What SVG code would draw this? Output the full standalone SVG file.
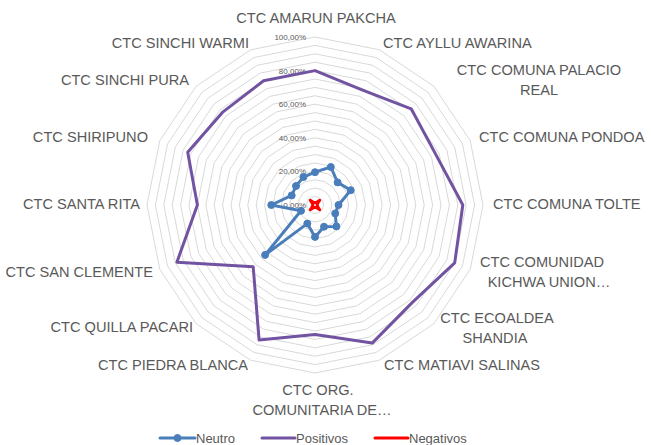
<svg xmlns="http://www.w3.org/2000/svg" xmlns:xlink="http://www.w3.org/1999/xlink" width="651" height="445" viewBox="0 0 651 445">
<style>
.ring{fill:none;stroke:#d9d9d9;stroke-width:1;vector-effect:non-scaling-stroke}
.tick{font-family:"Liberation Sans",Arial,sans-serif;font-size:8px;fill:#595959;text-anchor:end}
.cat{font-family:"Liberation Sans",Arial,sans-serif;font-size:14.6px;fill:#595959}
.leg{font-family:"Liberation Sans",Arial,sans-serif;font-size:13px;fill:#595959}
.s{fill:none;stroke-width:3;stroke-linejoin:round;stroke-linecap:round}
.neu{stroke:#4a7ebb}
.pos{stroke:#7153a2}
.neg{stroke:#ff0000}
.mk{fill:#4a7ebb;stroke:#4a7ebb;stroke-width:1}
</style>
<defs>
<polygon id="ring" class="ring" points="0,-100 38.268,-92.388 70.711,-70.711 92.388,-38.268 100,0 92.388,38.268 70.711,70.711 38.268,92.388 0,100 -38.268,92.388 -70.711,70.711 -92.388,38.268 -100,0 -92.388,-38.268 -70.711,-70.711 -38.268,-92.388"/>
</defs>
<rect width="651" height="445" fill="#ffffff"/>
<g id="grid">
<use xlink:href="#ring" transform="translate(315,205) scale(0.084)"/>
<use xlink:href="#ring" transform="translate(315,205) scale(0.168)"/>
<use xlink:href="#ring" transform="translate(315,205) scale(0.252)"/>
<use xlink:href="#ring" transform="translate(315,205) scale(0.336)"/>
<use xlink:href="#ring" transform="translate(315,205) scale(0.42)"/>
<use xlink:href="#ring" transform="translate(315,205) scale(0.504)"/>
<use xlink:href="#ring" transform="translate(315,205) scale(0.588)"/>
<use xlink:href="#ring" transform="translate(315,205) scale(0.672)"/>
<use xlink:href="#ring" transform="translate(315,205) scale(0.756)"/>
<use xlink:href="#ring" transform="translate(315,205) scale(0.84)"/>
<use xlink:href="#ring" transform="translate(315,205) scale(0.924)"/>
<use xlink:href="#ring" transform="translate(315,205) scale(1.008)"/>
<use xlink:href="#ring" transform="translate(315,205) scale(1.092)"/>
<use xlink:href="#ring" transform="translate(315,205) scale(1.176)"/>
<use xlink:href="#ring" transform="translate(315,205) scale(1.26)"/>
<use xlink:href="#ring" transform="translate(315,205) scale(1.344)"/>
<use xlink:href="#ring" transform="translate(315,205) scale(1.428)"/>
<use xlink:href="#ring" transform="translate(315,205) scale(1.512)"/>
<use xlink:href="#ring" transform="translate(315,205) scale(1.596)"/>
<use xlink:href="#ring" transform="translate(315,205) scale(1.68)"/>
</g>
<g id="ticks">
<text class="tick" x="306" y="40">100,00%</text>
<text class="tick" x="306" y="73.6">80,00%</text>
<text class="tick" x="306" y="107.2">60,00%</text>
<text class="tick" x="306" y="140.8">40,00%</text>
<text class="tick" x="306" y="174.4">20,00%</text>
<text class="tick" x="306" y="208">0,00%</text>
</g>
<g id="categories">
<text class="cat" x="316" y="23" text-anchor="middle">CTC AMARUN PAKCHA</text>
<text class="cat" x="383" y="48">CTC AYLLU AWARINA</text>
<text class="cat" x="539" y="75" text-anchor="middle">CTC COMUNA PALACIO</text>
<text class="cat" x="539" y="95" text-anchor="middle">REAL</text>
<text class="cat" x="479" y="142">CTC COMUNA PONDOA</text>
<text class="cat" x="493" y="209">CTC COMUNA TOLTE</text>
<text class="cat" x="542" y="267" text-anchor="middle">CTC COMUNIDAD</text>
<text class="cat" x="549" y="287" text-anchor="middle">KICHWA UNION…</text>
<text class="cat" x="497" y="323" text-anchor="middle">CTC ECOALDEA</text>
<text class="cat" x="495" y="343" text-anchor="middle">SHANDIA</text>
<text class="cat" x="384" y="370">CTC MATIAVI SALINAS</text>
<text class="cat" x="318" y="395" text-anchor="middle">CTC ORG.</text>
<text class="cat" x="322" y="415" text-anchor="middle">COMUNITARIA DE…</text>
<text class="cat" x="248" y="370" text-anchor="end">CTC PIEDRA BLANCA</text>
<text class="cat" x="193" y="332" text-anchor="end">CTC QUILLA PACARI</text>
<text class="cat" x="153" y="277" text-anchor="end">CTC SAN CLEMENTE</text>
<text class="cat" x="140" y="209" text-anchor="end">CTC SANTA RITA</text>
<text class="cat" x="148" y="142" text-anchor="end">CTC SHIRIPUNO</text>
<text class="cat" x="189" y="85" text-anchor="end">CTC SINCHI PURA</text>
<text class="cat" x="249" y="48" text-anchor="end">CTC SINCHI WARMI</text>
</g>
<g id="series">
<polygon id="positivos" class="s pos" points="315,70.6 362.6,90.2 411.2,108.8 436,154.9 462.8,205 454.7,262.9 412.4,302.4 372.2,343.1 315,334.4 259.1,340.1 253.2,266.8 176.9,262.2 197.4,205 187.7,152.3 222.4,112.4 263.6,80.8"/>
<g id="neutro">
<polygon class="s neu" points="315,172.2 330.8,167 337.6,182.4 350.7,190.2 338.5,205 335.2,213.4 336.4,226.4 324,226.7 315,236.9 307.3,223.6 265.1,254.9 301,210.8 271.3,205 291.7,195.4 296,186 303.4,177.1"/>
<circle class="mk" cx="315" cy="172.2" r="3.5"/>
<circle class="mk" cx="330.8" cy="167" r="3.5"/>
<circle class="mk" cx="337.6" cy="182.4" r="3.5"/>
<circle class="mk" cx="350.7" cy="190.2" r="3.5"/>
<circle class="mk" cx="338.5" cy="205" r="3.5"/>
<circle class="mk" cx="335.2" cy="213.4" r="3.5"/>
<circle class="mk" cx="336.4" cy="226.4" r="3.5"/>
<circle class="mk" cx="324" cy="226.7" r="3.5"/>
<circle class="mk" cx="315" cy="236.9" r="3.5"/>
<circle class="mk" cx="307.3" cy="223.6" r="3.5"/>
<circle class="mk" cx="265.1" cy="254.9" r="3.5"/>
<circle class="mk" cx="301" cy="210.8" r="3.5"/>
<circle class="mk" cx="271.3" cy="205" r="3.5"/>
<circle class="mk" cx="291.7" cy="195.4" r="3.5"/>
<circle class="mk" cx="296" cy="186" r="3.5"/>
<circle class="mk" cx="303.4" cy="177.1" r="3.5"/>
</g>
<polygon id="negativos" class="s neg" points="315,202.5 316,202.7 319.7,200.3 317.3,204 317.5,205 317.3,206 319.7,209.7 316,207.3 315,207.5 314,207.3 310.3,209.7 312.7,206 312.5,205 312.7,204 310.3,200.3 314,202.7"/>
</g>
<g id="legend">
<line class="s neu" x1="160" y1="438" x2="195" y2="438"/>
<circle class="mk" cx="177.5" cy="438" r="3.5"/>
<text class="leg" x="196" y="443">Neutro</text>
<line class="s pos" x1="262" y1="438" x2="295" y2="438"/>
<text class="leg" x="296" y="443">Positivos</text>
<line class="s neg" x1="375" y1="438" x2="408" y2="438"/>
<text class="leg" x="409" y="443">Negativos</text>
</g>
</svg>
